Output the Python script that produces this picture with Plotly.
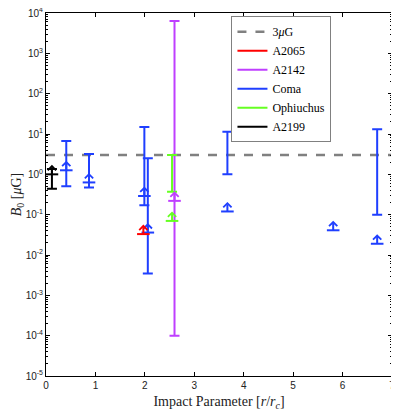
import numpy as np
import plotly.graph_objects as go

# DATA
ref_field = 3.0
x_limits = [0, 7]
y_exponents = [-5, -4, -3, -2, -1, 0, 1, 2, 3, 4]

# Coma: measured ranges and lower limits
coma_rng_x = [0.41, 0.87, 1.99, 2.06, 3.67, 6.70]
coma_rng_lo = [0.51, 0.47, 0.17, 0.0035, 1.0, 0.10]
coma_rng_hi = [6.7, 3.2, 14.9, 2.5, 11.4, 13.1]
coma_lim_x = [0.41, 0.87, 1.99, 2.06, 3.67, 5.81, 6.70]
coma_lim_y = [1.26, 0.63, 0.29, 0.036, 0.12, 0.041, 0.019]

# A2065
a2065_lim_x = [1.97]
a2065_lim_y = [0.033]

# A2142
a2142_rng_x = [2.60]
a2142_rng_lo = [1.0e-4]
a2142_rng_hi = [6300]
a2142_lim_x = [2.60]
a2142_lim_y = [0.22]

# Ophiuchus
oph_rng_x = [2.55]
oph_rng_lo = [0.37]
oph_rng_hi = [3.0]
oph_lim_x = [2.55]
oph_lim_y = [0.07]

# A2199
a2199_rng_x = [0.12]
a2199_rng_lo = [0.44]
a2199_rng_hi = [1.35]
a2199_lim_x = [0.12]
a2199_lim_y = [1.0]

RED = "#ff0000"
MAG = "#bf3fff"
BLUE = "#1f3fff"
GREEN = "#66ff22"
BLACK = "#000000"
SERIF = "Liberation Serif, DejaVu Serif, serif"
SANS = "Liberation Sans, Arial, sans-serif"

fig = go.Figure()

# legend entries (order as in the reference)
fig.add_trace(go.Scatter(x=x_limits, y=[ref_field, ref_field], mode="lines",
                         line=dict(color="#808080", width=2.5, dash="dash"),
                         name="3<i>μ</i>G"))
for name, col in [("A2065", RED), ("A2142", MAG), ("Coma", BLUE),
                  ("Ophiuchus", GREEN), ("A2199", BLACK)]:
    fig.add_trace(go.Scatter(x=[None], y=[None], mode="lines",
                             line=dict(color=col, width=2), name=name))


def add_ranges(xs, lo, hi, col):
    fig.add_trace(go.Scatter(
        x=xs, y=lo, mode="markers", showlegend=False, hoverinfo="skip",
        marker=dict(size=1, color="rgba(0,0,0,0)"),
        error_y=dict(type="data", symmetric=False,
                     array=[h - l for l, h in zip(lo, hi)],
                     arrayminus=[0] * len(lo),
                     color=col, thickness=2, width=5)))


def add_limits(xs, ys, col):
    # horizontal bar at the limit, arrow pointing up
    fig.add_trace(go.Scatter(
        x=xs, y=ys, mode="markers", showlegend=False, hoverinfo="skip",
        marker=dict(symbol="line-ew", size=9, line=dict(color=col, width=2))))
    for xv, yv in zip(xs, ys):
        fig.add_annotation(x=xv, y=np.log10(yv), ax=0, ay=-11, text="",
                           showarrow=True, arrowside="start",
                           startarrowhead=4, startarrowsize=0.8,
                           arrowwidth=2, arrowcolor=col)


add_ranges(a2142_rng_x, a2142_rng_lo, a2142_rng_hi, MAG)
add_limits(a2142_lim_x, a2142_lim_y, MAG)
add_ranges(coma_rng_x, coma_rng_lo, coma_rng_hi, BLUE)
add_limits(coma_lim_x, coma_lim_y, BLUE)
add_limits(a2065_lim_x, a2065_lim_y, RED)
add_ranges(oph_rng_x, oph_rng_lo, oph_rng_hi, GREEN)
add_limits(oph_lim_x, oph_lim_y, GREEN)
add_ranges(a2199_rng_x, a2199_rng_lo, a2199_rng_hi, BLACK)
add_limits(a2199_lim_x, a2199_lim_y, BLACK)

# the page adds an 8px body margin, so the figure is drawn 8px smaller
fig.update_layout(
    width=391, height=404,
    margin=dict(l=38, r=7, t=5, b=36),
    plot_bgcolor="white", paper_bgcolor="white",
    legend=dict(x=0.536, y=0.991, xanchor="left", yanchor="top",
                bgcolor="white", bordercolor="#808080", borderwidth=1,
                font=dict(family=SERIF, size=12, color="black"),
                tracegroupgap=0, itemwidth=30),
)
fig.update_xaxes(
    range=x_limits, dtick=1, tick0=0, showgrid=False, zeroline=False,
    automargin=False, ticklabeloverflow="allow",
    showline=True, linecolor="black", linewidth=1, mirror="ticks",
    ticks="inside", ticklen=4, tickcolor="black",
    tickfont=dict(family=SANS, size=10, color="#222"),
    title=dict(text="Impact Parameter [<i>r</i>/<i>r</i><sub><i>c</i></sub>]",
               font=dict(family=SERIF, size=14, color="#222"), standoff=6),
)
fig.update_yaxes(
    type="log", range=[-5, 4],
    tickmode="array", tickvals=[10.0 ** e for e in y_exponents],
    ticktext=[f"10<sup>{e}</sup>" for e in y_exponents],
    showgrid=False, zeroline=False, automargin=False, ticklabeloverflow="allow",
    showline=True, linecolor="black", linewidth=1, mirror="ticks",
    ticks="inside", ticklen=4, tickcolor="black",
    minor=dict(ticks="inside", ticklen=2, dtick="D1", tickcolor="black", showgrid=False),
    tickfont=dict(family=SANS, size=10, color="#222"),
    title=dict(text="<i>B</i><sub>0</sub> [<i>μ</i>G]",
               font=dict(family=SERIF, size=14, color="#222"), standoff=0),
)

fig.write_html("out.html")
